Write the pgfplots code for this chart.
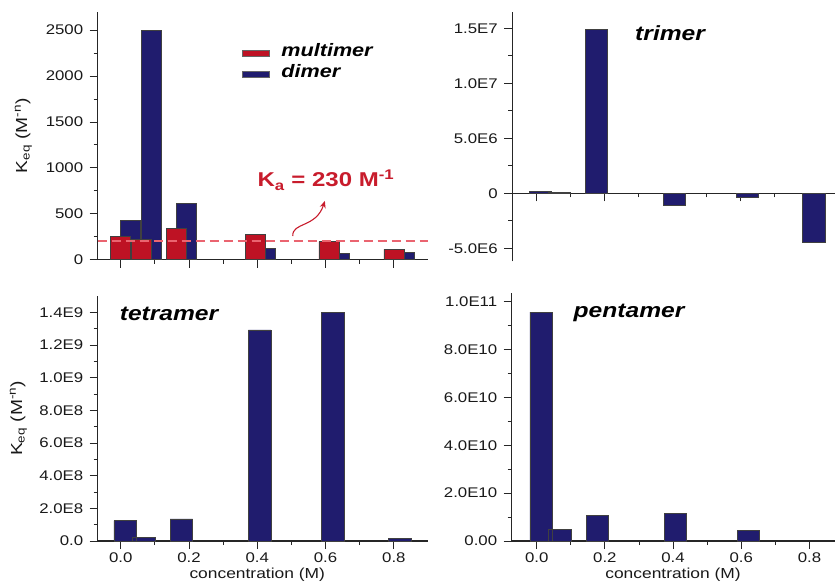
\documentclass[border=0pt]{standalone}
\usepackage{pgfplots}
\pgfplotsset{compat=1.18}
\usetikzlibrary{arrows.meta}
\usepackage{fontspec}
\setmainfont{Liberation Sans}[FakeStretch=1.2]
\definecolor{navy}{RGB}{32,28,110}
\definecolor{barred}{RGB}{190,18,36}
\definecolor{dashred}{RGB}{234,100,112}
\definecolor{annred}{RGB}{200,28,44}

\tikzset{ptitle/.style={font=\fontsize{20.5pt}{24pt}\selectfont\bfseries\itshape}}
\pgfplotsset{
  panel/.style={
    scale only axis,
    axis lines*=left,
    axis line style={line width=1.2pt, black!85},
    tick style={line width=0.9pt, black!85},
    tick align=outside,
    major tick length=8pt,
    minor tick length=4pt,
    xtick={0,0.2,0.4,0.6,0.8},
    minor x tick num=1,
    minor y tick num=1,
    scaled y ticks=false,
    scaled x ticks=false,
    tick label style={font=\fontsize{14pt}{16pt}\selectfont, text=black!90},
    yticklabel style={xshift=-3pt},
    label style={font=\fontsize{14.5pt}{16pt}\selectfont, text=black!90},
    ylabel style={font=\fontsize{16pt}{18pt}\selectfont},
    /pgf/number format/assume math mode=true,
    clip=false,
  },
  navybar/.style={ybar, bar width=0.066, bar shift=0pt, fill=navy, draw=black!75, line width=0.6pt, forget plot},
}

\begin{document}
\begin{tikzpicture}
\useasboundingbox (0pt,0pt) rectangle (835pt,584pt);

% ---------------- top left: dimer / multimer ----------------
\begin{axis}[panel,
  at={(97.7pt,324.3pt)}, anchor=south west,
  width=330.3pt, height=247.9pt,
  xmin=-0.0673, xmax=0.9, ymin=0, ymax=2700,
  ytick={0,500,1000,1500,2000,2500},
  yticklabels={0,500,1000,1500,2000,2500},
  xticklabels={},
  ylabel={K\textsubscript{eq} (M\textsuperscript{-n})},
  ylabel style={at={(axis description cs:-0.225,0.5)}, anchor=center},
  legend image code/.code={\draw[#1] (0pt,-5pt) rectangle (27pt,1.6pt);},
  legend style={at={(rel axis cs:0.436,0.872)}, anchor=north west,
    draw=none, fill=none, inner sep=0pt, row sep=5pt,
    font=\fontsize{18pt}{20pt}\selectfont\bfseries\itshape,
    nodes={inner sep=0pt, text height=13pt, text depth=3pt},
    /tikz/every odd column/.append style={column sep=12pt}},
  legend cell align=left,
]
\addlegendimage{fill=barred, draw=black!60, line width=0.5pt}
\addlegendentry{multimer}
\addlegendimage{fill=navy, draw=black!60, line width=0.5pt}
\addlegendentry{dimer}
\addplot[ybar, bar width=0.0585, bar shift=0pt, fill=navy, draw=black!75, line width=0.6pt, forget plot]
  coordinates {(0.029,431) (0.090,2500) (0.193,613) (0.425,124) (0.640,70) (0.830,80)};
\addplot[ybar, bar width=0.0585, bar shift=0pt, fill=barred, draw=black!75, line width=0.6pt, forget plot]
  coordinates {(0.000,250) (0.060,222) (0.164,337) (0.395,276) (0.610,196) (0.800,113)};
\addplot[dashred, line width=1.3pt, dash pattern=on 9pt off 5pt, forget plot]
  coordinates {(-0.0673,205) (0.9,205)};
\draw[annred, line width=1.1pt, -{Stealth[length=7pt,width=6pt]}]
  (axis cs:0.504,258) .. controls (axis cs:0.502,411) and (axis cs:0.572,345) .. (axis cs:0.598,640);
\node[annred, font=\fontsize{20pt}{24pt}\selectfont\bfseries] at (axis cs:0.601,868)
  {K\textsubscript{a} = 230 M\textsuperscript{-1}};
\end{axis}

% ---------------- top right: trimer ----------------
\begin{axis}[panel,
  axis x line*=middle, axis y line*=left,
  at={(512.3pt,322.5pt)}, anchor=south west,
  width=322.7pt, height=249.7pt,
  xmin=-0.0697, xmax=0.879, ymin=-6.2e6, ymax=16.5e6,
  ytick={-5e6,0,5e6,1e7,1.5e7},
  yticklabels={-5.0E6,0,5.0E6,1.0E7,1.5E7},
  xticklabels={},
]
\addplot[navybar] coordinates {(0.068,5e4) (0.178,1.49e7) (0.407,-1.12e6) (0.621,-3.6e5) (0.817,-4.5e6) (0.013,1.5e5)};
\node[ptitle] at (rel axis cs:0.489,0.915) {trimer};
\end{axis}

% ---------------- bottom left: tetramer ----------------
\begin{axis}[panel,
  at={(97.7pt,43pt)}, anchor=south west,
  width=330.3pt, height=245pt,
  xmin=-0.0673, xmax=0.9, ymin=0, ymax=1.5e9,
  ytick={0,2e8,4e8,6e8,8e8,1e9,1.2e9,1.4e9},
  yticklabels={0.0,2.0E8,4.0E8,6.0E8,8.0E8,1.0E9,1.2E9,1.4E9},
  xticklabels={0.0,0.2,0.4,0.6,0.8},
  xlabel={concentration (M)},
  xlabel style={at={(axis description cs:0.483,-0.138)}, anchor=center},
  ylabel={K\textsubscript{eq} (M\textsuperscript{-n})},
  ylabel style={at={(axis description cs:-0.24,0.5)}, anchor=center},
]
\addplot[navybar] coordinates {(0.068,2.3e7) (0.178,1.35e8) (0.407,1.292e9) (0.621,1.4e9) (0.817,1.6e7) (0.013,1.24e8)};
\node[ptitle] at (rel axis cs:0.216,0.927) {tetramer};
\end{axis}

% ---------------- bottom right: pentamer ----------------
\begin{axis}[panel,
  at={(511.7pt,43pt)}, anchor=south west,
  width=323.3pt, height=247.7pt,
  xmin=-0.0733, xmax=0.875, ymin=0, ymax=1.035e11,
  ytick={0,2e10,4e10,6e10,8e10,1e11},
  yticklabels={0.00,2.0E10,4.0E10,6.0E10,8.0E10,1.0E11},
  xticklabels={0.0,0.2,0.4,0.6,0.8},
  xlabel={concentration (M)},
  xlabel style={at={(axis description cs:0.499,-0.137)}, anchor=center},
]
\addplot[navybar] coordinates {(0.068,4.9e9) (0.178,1.06e10) (0.407,1.16e10) (0.621,4.3e9) (0.013,9.56e10)};
\node[ptitle] at (rel axis cs:0.363,0.92) {pentamer};
\end{axis}
\end{tikzpicture}
\end{document}
